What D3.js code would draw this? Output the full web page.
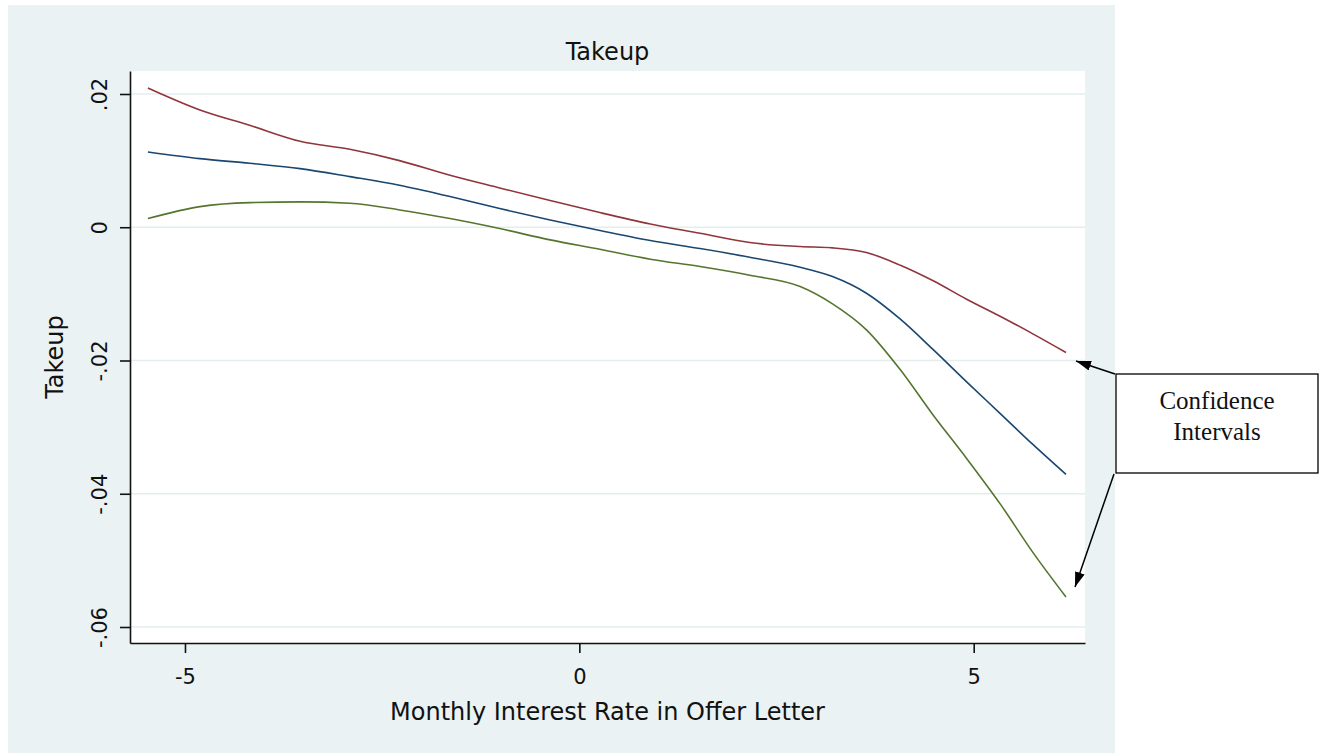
<!DOCTYPE html>
<html>
<head>
<meta charset="utf-8">
<script src="https://cdn.jsdelivr.net/npm/d3@7"></script>
<style>
  html, body { margin: 0; padding: 0; background: #fff; }
  svg { display: block; }
  text { font-family: "DejaVu Sans", sans-serif; fill: #111; }
</style>
</head>
<body>
<svg id="container" width="1324" height="753"></svg>
<script>
// interest rate grid (x) and the three lowess curves
const rates = [-5.47, -4.81, -4.18, -3.54, -2.91, -2.28, -1.64, -1.01, -0.37, 0.26, 0.90,
  1.53, 2.16, 2.80, 3.21, 3.64, 4.07, 4.48, 4.91, 5.34, 5.75, 6.17];
const upper = [0.0209, 0.0176, 0.0153, 0.0129, 0.0117, 0.0100, 0.0078, 0.0059, 0.0040, 0.0022, 0.0005,
  -0.0009, -0.0023, -0.0029, -0.0031, -0.0038, -0.0057, -0.0080, -0.0108, -0.0134, -0.0160, -0.0188];
const fitted = [0.0113, 0.0103, 0.0096, 0.0088, 0.0076, 0.0063, 0.0046, 0.0028, 0.0011, -0.0005, -0.0020,
  -0.0032, -0.0045, -0.0060, -0.0074, -0.0099, -0.0138, -0.0183, -0.0232, -0.0280, -0.0326, -0.0371];
const lower = [0.0013, 0.0031, 0.0037, 0.0038, 0.0036, 0.0026, 0.0013, -0.0002, -0.0019, -0.0033, -0.0048,
  -0.0059, -0.0072, -0.0089, -0.0115, -0.0154, -0.0214, -0.0281, -0.0347, -0.0416, -0.0488, -0.0555];

const xTicks = [-5, 0, 5];
const yTicks = [0.02, 0, -0.02, -0.04, -0.06];
const yTickLabels = [".02", "0", "-.02", "-.04", "-.06"];

const svg = d3.select("#container");

const plotLeft = 130, plotRight = 1085, plotTop = 71, plotBottom = 643;

const x = d3.scaleLinear().domain([-5.697, 6.411]).range([plotLeft, plotRight]);
const y = d3.scaleLinear().domain([-0.0624, 0.02345]).range([plotBottom, plotTop]);

// outer stata panel
svg.append("rect")
  .attr("x", 8).attr("y", 5)
  .attr("width", 1107).attr("height", 748)
  .attr("fill", "#eaf2f3");

svg.append("rect")
  .attr("x", plotLeft).attr("y", plotTop)
  .attr("width", plotRight - plotLeft).attr("height", plotBottom - plotTop)
  .attr("fill", "#ffffff");

// gridlines
svg.selectAll("line.grid")
  .data(yTicks)
  .enter()
  .append("line")
  .attr("class", "grid")
  .attr("x1", plotLeft).attr("x2", plotRight)
  .attr("y1", (d) => y(d)).attr("y2", (d) => y(d))
  .attr("stroke", "#e4eef0")
  .attr("stroke-width", 1.5);

// curves
const series = [
  { values: upper, color: "#90353b" },
  { values: fitted, color: "#1a476f" },
  { values: lower, color: "#55752f" }
];

const line = d3.line()
  .x((d) => x(d[0]))
  .y((d) => y(d[1]))
  .curve(d3.curveMonotoneX);

svg.selectAll("path.curve")
  .data(series)
  .enter()
  .append("path")
  .attr("class", "curve")
  .attr("fill", "none")
  .attr("stroke", (s) => s.color)
  .attr("stroke-width", 1.6)
  .attr("d", (s) => line(rates.map((r, i) => [r, s.values[i]])));

// axes
const yAxis = svg.append("g")
  .attr("transform", `translate(${plotLeft},0)`)
  .call(d3.axisLeft(y)
    .tickValues(yTicks)
    .tickFormat((d, i) => yTickLabels[i])
    .tickSize(10)
    .tickSizeOuter(0));

yAxis.selectAll("text")
  .attr("transform", "rotate(-90)")
  .attr("x", 0)
  .attr("y", -23)
  .attr("dy", 0)
  .attr("text-anchor", "middle")
  .style("font-size", "21px")
  .style("font-family", "DejaVu Sans, sans-serif")
  .attr("fill", "#111");

const xAxis = svg.append("g")
  .attr("transform", `translate(0,${plotBottom})`)
  .call(d3.axisBottom(x)
    .tickValues(xTicks)
    .tickFormat((d) => String(d))
    .tickSize(10)
    .tickSizeOuter(0));

xAxis.selectAll("text")
  .attr("y", 41)
  .attr("dy", 0)
  .style("font-size", "21px")
  .style("font-family", "DejaVu Sans, sans-serif")
  .attr("fill", "#111");

svg.selectAll(".domain, .tick line")
  .attr("stroke", "#111")
  .attr("stroke-width", 1.6);

// titles
svg.append("text")
  .attr("x", (plotLeft + plotRight) / 2).attr("y", 60)
  .attr("text-anchor", "middle")
  .style("font-size", "24px")
  .text("Takeup");

svg.append("text")
  .attr("x", (plotLeft + plotRight) / 2).attr("y", 720)
  .attr("text-anchor", "middle")
  .style("font-size", "24px")
  .text("Monthly Interest Rate in Offer Letter");

svg.append("text")
  .attr("transform", `translate(63,${(plotTop + plotBottom) / 2}) rotate(-90)`)
  .attr("text-anchor", "middle")
  .style("font-size", "24px")
  .text("Takeup");

// annotation box with arrows
svg.append("defs")
  .append("marker")
  .attr("id", "arrow")
  .attr("markerUnits", "userSpaceOnUse")
  .attr("markerWidth", 16).attr("markerHeight", 12)
  .attr("refX", 15).attr("refY", 5)
  .attr("orient", "auto")
  .append("path")
  .attr("d", "M0,0 L15,5 L0,10 Z")
  .attr("fill", "#000");

svg.append("rect")
  .attr("x", 1116).attr("y", 374)
  .attr("width", 202).attr("height", 99)
  .attr("fill", "#fff")
  .attr("stroke", "#000")
  .attr("stroke-width", 1.3);

svg.append("text")
  .attr("x", 1217).attr("y", 409)
  .attr("text-anchor", "middle")
  .style("font-family", "Liberation Serif, serif")
  .style("font-size", "25px")
  .text("Confidence");

svg.append("text")
  .attr("x", 1217).attr("y", 440)
  .attr("text-anchor", "middle")
  .style("font-family", "Liberation Serif, serif")
  .style("font-size", "25px")
  .text("Intervals");

svg.append("line")
  .attr("x1", 1115).attr("y1", 374)
  .attr("x2", 1076).attr("y2", 361)
  .attr("stroke", "#000").attr("stroke-width", 1.5)
  .attr("marker-end", "url(#arrow)");

svg.append("line")
  .attr("x1", 1114).attr("y1", 474)
  .attr("x2", 1075).attr("y2", 587)
  .attr("stroke", "#000").attr("stroke-width", 1.5)
  .attr("marker-end", "url(#arrow)");
</script>
</body>
</html>
